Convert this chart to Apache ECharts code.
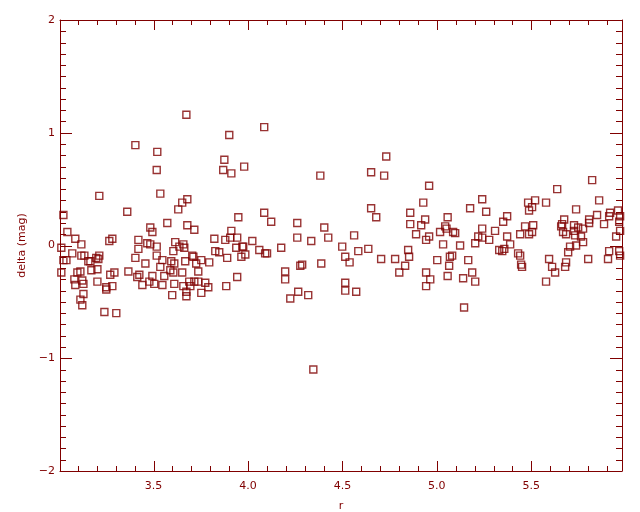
<!DOCTYPE html>
<html>
<head>
<meta charset="utf-8">
<script src="https://cdn.jsdelivr.net/npm/echarts@6/dist/echarts.min.js"></script>
<style>
html,body{margin:0;padding:0;background:#fff;}
#chart{width:640px;height:512px;}
</style>
</head>
<body>
<div id="chart"></div>
<script>
// r values (x)
const rValues = [
3.404,3.213,3.361,3.023,3.483,3.494,3.044,3.086,3.266,3.282,3.420,3.118,3.467,3.483,3.012,3.420,3.070,3.118,3.134,3.213,
3.197,3.208,3.404,3.023,3.039,3.155,3.166,3.457,3.012,3.097,3.113,3.171,3.203,3.293,3.271,3.367,3.425,3.414,3.494,3.081,
3.123,3.086,3.129,3.203,3.250,3.250,3.282,3.441,3.478,3.504,3.129,3.113,3.123,3.240,3.303,
3.674,3.901,3.520,3.875,3.980,3.517,3.869,3.912,3.536,3.679,3.652,3.631,3.949,3.573,3.679,3.716,3.912,3.822,3.880,3.906,
3.943,4.023,3.615,3.637,3.658,3.663,3.517,3.938,3.975,3.970,3.605,3.827,3.848,3.986,3.517,3.705,3.711,3.890,3.965,3.547,
3.594,3.610,3.668,3.726,3.753,3.795,3.536,3.589,3.605,3.652,3.737,3.557,3.943,3.547,3.610,3.689,3.716,3.737,3.774,3.658,
3.695,3.790,3.885,3.674,3.674,3.599,3.753,
4.086,4.383,4.086,4.123,4.261,4.404,4.261,4.335,4.425,4.060,4.176,4.091,4.101,4.499,4.515,4.538,4.277,4.287,4.388,4.197,
4.197,4.515,4.515,4.266,4.319,4.224,4.346,
4.732,4.652,4.721,4.959,4.928,4.652,4.859,4.679,4.938,4.859,4.917,5.044,5.051,5.017,4.890,4.562,4.959,4.943,5.033,4.584,
4.637,4.848,4.705,4.779,4.853,5.002,4.832,4.801,4.943,4.965,4.943,4.573,
5.240,5.176,5.261,5.483,5.520,5.504,5.488,5.372,5.351,5.057,5.467,5.510,5.240,5.308,5.086,5.097,5.219,5.240,5.277,5.372,
5.441,5.488,5.504,5.203,5.123,5.388,5.330,5.346,5.357,5.430,5.441,5.069,5.081,5.166,5.065,5.446,5.451,5.187,5.139,5.203,
5.057,5.144,
5.822,5.637,5.859,5.578,5.737,5.959,5.970,5.848,5.917,5.912,5.674,5.658,5.663,5.806,5.806,5.885,5.965,5.726,5.748,5.774,
5.668,5.684,5.726,5.732,5.763,5.970,5.949,5.774,5.705,5.737,5.695,5.912,5.965,5.970,5.594,5.801,5.906,5.684,5.610,5.679,
5.626,5.578
];
// delta (mag) values (y)
const deltaValues = [
0.89,0.44,0.30,0.27,0.16,0.12,0.12,0.06,0.04,0.06,0.05,0.01,0.02,0.01,-0.02,-0.03,-0.07,-0.09,-0.09,-0.09,
-0.11,-0.12,-0.11,-0.13,-0.13,-0.14,-0.14,-0.16,-0.24,-0.24,-0.23,-0.22,-0.21,-0.24,-0.26,-0.23,-0.26,-0.28,-0.27,-0.30,
-0.31,-0.35,-0.34,-0.32,-0.37,-0.39,-0.36,-0.35,-0.32,-0.34,-0.43,-0.48,-0.53,-0.59,-0.60,
1.16,0.98,0.83,0.76,0.70,0.67,0.67,0.64,0.46,0.41,0.38,0.32,0.25,0.20,0.18,0.14,0.13,0.06,0.05,0.07,
0.07,0.04,0.03,-0.01,0.01,-0.02,-0.01,-0.02,-0.01,-0.01,-0.05,-0.05,-0.06,-0.08,-0.09,-0.09,-0.10,-0.11,-0.10,-0.13,
-0.14,-0.16,-0.14,-0.16,-0.13,-0.15,-0.19,-0.22,-0.24,-0.24,-0.23,-0.27,-0.28,-0.35,-0.34,-0.32,-0.32,-0.32,-0.33,-0.36,
-0.36,-0.37,-0.36,-0.41,-0.45,-0.44,-0.42,
1.05,0.62,0.29,0.21,0.20,0.16,0.07,0.04,0.07,-0.04,-0.02,-0.07,-0.07,-0.01,-0.10,-0.15,-0.18,-0.17,-0.16,-0.23,
-0.30,-0.33,-0.40,-0.41,-0.44,-0.47,-1.10,
0.79,0.65,0.62,0.53,0.38,0.33,0.29,0.25,0.23,0.19,0.18,0.17,0.15,0.12,0.10,0.09,0.08,0.05,0.01,-0.05,
-0.03,-0.04,-0.12,-0.12,-0.10,-0.13,-0.18,-0.24,-0.24,-0.30,-0.36,-0.41,
0.41,0.33,0.30,0.38,0.40,0.34,0.31,0.26,0.21,0.25,0.17,0.18,0.15,0.13,0.12,0.11,0.08,0.07,0.05,0.08,
0.10,0.10,0.12,0.02,0.00,0.01,-0.04,-0.05,-0.03,-0.07,-0.09,-0.10,-0.09,-0.13,-0.18,-0.17,-0.19,-0.24,-0.29,-0.32,
-0.27,-0.55,
0.58,0.50,0.40,0.38,0.32,0.31,0.26,0.27,0.29,0.26,0.23,0.17,0.19,0.23,0.20,0.19,0.21,0.18,0.16,0.15,
0.12,0.10,0.13,0.09,0.08,0.13,0.08,0.03,-0.01,0.00,-0.06,-0.05,-0.05,-0.09,-0.12,-0.12,-0.12,-0.15,-0.19,-0.19,
-0.24,-0.32
];
// axis ranges, tick values and labels
const xRange = [3.005, 5.98];
const yRange = [-2, 2];
const xMajorTicks = [3.5, 4.0, 4.5, 5.0, 5.5];
const xMinorTicks = [3.1,3.2,3.3,3.4,3.6,3.7,3.8,3.9,4.1,4.2,4.3,4.4,4.6,4.7,4.8,4.9,5.1,5.2,5.3,5.4,5.6,5.7,5.8,5.9];
const yMajorTicks = [-1, 0, 1];
const yMinorTicks = [-1.9,-1.8,-1.7,-1.6,-1.5,-1.4,-1.3,-1.2,-1.1,-0.9,-0.8,-0.7,-0.6,-0.5,-0.4,-0.3,-0.2,-0.1,
                     0.1,0.2,0.3,0.4,0.5,0.6,0.7,0.8,0.9,1.1,1.2,1.3,1.4,1.5,1.6,1.7,1.8,1.9];

const C = '#800000';
const FONT = 'DejaVu Sans';
const pts = rValues.map((r, i) => [r, deltaValues[i]]);

// tick marks (drawn through the axes' own scales)
const tickSpecs = []
  .concat(xMajorTicks.map(v => ({ axis: 'x', v: v, len: 10 })))
  .concat(xMinorTicks.map(v => ({ axis: 'x', v: v, len: 5 })))
  .concat(yMajorTicks.map(v => ({ axis: 'y', v: v, len: 12 })))
  .concat(yMinorTicks.map(v => ({ axis: 'y', v: v, len: 6 })));
const tickData = tickSpecs.map(t => (t.axis === 'x' ? [t.v, yRange[0]] : [xRange[0], t.v]));

function renderTick(params, api) {
  const t = tickSpecs[params.dataIndex];
  const segs = [];
  if (t.axis === 'x') {
    const b = api.coord([t.v, yRange[0]]);
    const tp = api.coord([t.v, yRange[1]]);
    const x = Math.round(b[0]) + 0.5;
    segs.push({ x1: x, y1: b[1], x2: x, y2: b[1] - t.len });
    segs.push({ x1: x, y1: tp[1], x2: x, y2: tp[1] + t.len });
  } else {
    const l = api.coord([xRange[0], t.v]);
    const r = api.coord([xRange[1], t.v]);
    const y = Math.round(l[1]) + 0.5;
    segs.push({ x1: l[0], y1: y, x2: l[0] + t.len, y2: y });
    segs.push({ x1: r[0], y1: y, x2: r[0] - t.len, y2: y });
  }
  return { type: 'group', children: segs.map(s => ({ type: 'line', shape: s, style: { stroke: C, lineWidth: 1 } })) };
}

function axisBase(min, max, pos) {
  return {
    type: 'value', position: pos, min: min, max: max,
    axisLine: { show: true, onZero: false, lineStyle: { color: C, width: 1 } },
    axisTick: { show: false },
    axisLabel: { show: false },
    splitLine: { show: false }
  };
}

const xBottom = Object.assign(axisBase(xRange[0], xRange[1], 'bottom'), {
  axisLabel: { show: true, customValues: xMajorTicks, color: C, fontFamily: FONT, fontSize: 11, margin: 10,
    formatter: v => Number(v).toFixed(1) },
  name: 'r', nameLocation: 'middle', nameGap: 30,
  nameTextStyle: { color: C, fontFamily: FONT, fontSize: 11 }
});
const xTop = axisBase(xRange[0], xRange[1], 'top');
const yLeft = Object.assign(axisBase(yRange[0], yRange[1], 'left'), {
  interval: 1,
  axisLabel: { show: true, color: C, fontFamily: FONT, fontSize: 11, margin: 5,
    formatter: v => (v < 0 ? '\u2212' + Math.abs(v) : String(v)) },
  name: 'delta (mag)', nameLocation: 'middle', nameGap: 22, nameRotate: 90,
  nameTextStyle: { color: C, fontFamily: FONT, fontSize: 11 }
});
const yRight = Object.assign(axisBase(yRange[0], yRange[1], 'right'), { interval: 1 });

const chart = echarts.init(document.getElementById('chart'));
chart.setOption({
  animation: false,
  grid: { left: 60, right: 18, top: 20, bottom: 41, outerBoundsMode: 'none' },
  xAxis: [xBottom, xTop],
  yAxis: [yLeft, yRight],
  series: [
    {
      type: 'scatter', xAxisIndex: 0, yAxisIndex: 0,
      data: pts,
      symbol: 'rect', symbolSize: 7,
      itemStyle: { color: 'rgba(0,0,0,0)', borderColor: C, borderWidth: 1.4 }
    },
    {
      type: 'custom', xAxisIndex: 0, yAxisIndex: 0,
      data: tickData, renderItem: renderTick,
      clip: false, silent: true, z: 5
    }
  ]
});
</script>
</body>
</html>
